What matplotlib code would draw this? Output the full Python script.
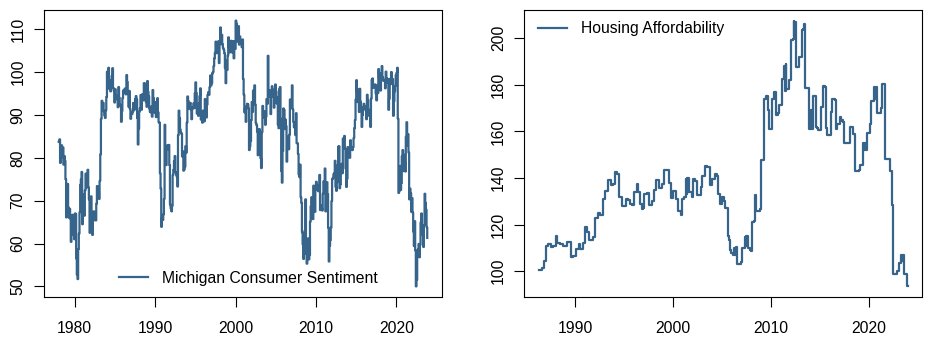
import matplotlib
matplotlib.use("Agg")
import matplotlib.pyplot as plt
import numpy as np

# ---------------- data ----------------
# University of Michigan consumer sentiment, monthly, Jan 1978 - Nov 2023
sentiment_start_year = 1978
sentiment = [
    83.7, 84.3, 78.8, 81.6, 82.9, 80.0, 82.4, 78.4, 80.4, 79.3, 75.0, 66.1,   # 1978
    72.1, 73.9, 68.4, 66.0, 68.1, 65.8, 60.4, 64.5, 66.7, 62.1, 63.3, 61.0,   # 1979
    67.0, 66.9, 56.5, 52.7, 51.7, 58.7, 62.3, 67.3, 73.7, 75.0, 76.7, 64.5,   # 1980
    71.4, 66.9, 66.5, 72.4, 76.3, 73.1, 74.1, 77.2, 73.1, 70.3, 62.5, 64.3,   # 1981
    71.0, 66.5, 62.0, 65.5, 67.5, 65.7, 65.4, 65.4, 69.3, 73.4, 72.1, 71.9,   # 1982
    70.4, 74.6, 80.8, 89.1, 93.3, 92.2, 92.8, 90.9, 89.9, 89.3, 91.1, 94.2,   # 1983
    100.1, 97.4, 101.0, 96.1, 98.1, 95.5, 96.6, 99.1, 100.9, 96.3, 95.7, 92.9,  # 1984
    96.0, 93.7, 93.7, 94.6, 91.8, 96.5, 94.0, 92.4, 92.1, 88.4, 90.9, 93.9,   # 1985
    95.6, 95.9, 95.1, 96.2, 94.8, 99.3, 97.7, 94.9, 91.9, 95.6, 91.4, 89.1,   # 1986
    90.4, 90.2, 90.8, 92.8, 91.1, 91.5, 93.7, 94.4, 93.6, 89.3, 83.1, 86.8,   # 1987
    90.8, 91.6, 94.6, 91.2, 94.8, 94.7, 93.4, 97.4, 97.3, 94.1, 93.0, 91.9,   # 1988
    97.9, 95.4, 94.3, 91.5, 90.7, 90.6, 92.0, 89.6, 95.8, 93.9, 90.9, 90.5,   # 1989
    93.0, 89.5, 91.3, 93.9, 90.6, 88.3, 88.2, 76.4, 72.8, 63.9, 66.0, 65.5,   # 1990
    66.8, 70.4, 87.7, 81.8, 78.3, 82.1, 82.9, 82.0, 83.0, 78.3, 69.1, 68.2,   # 1991
    67.5, 68.8, 76.0, 77.2, 79.2, 80.4, 76.6, 76.1, 75.6, 73.3, 85.3, 91.0,   # 1992
    89.3, 86.6, 85.9, 85.6, 80.3, 81.5, 77.0, 77.3, 77.9, 82.7, 81.2, 88.2,   # 1993
    94.3, 93.2, 91.5, 92.6, 92.8, 91.2, 89.0, 91.7, 91.5, 92.7, 91.6, 95.1,   # 1994
    97.6, 95.1, 90.3, 92.5, 89.8, 92.7, 94.4, 96.2, 88.9, 90.2, 88.2, 91.0,   # 1995
    89.3, 88.5, 93.7, 92.7, 89.4, 92.4, 94.7, 95.3, 94.7, 96.5, 99.2, 96.9,   # 1996
    97.4, 99.7, 100.0, 101.4, 103.2, 104.5, 107.1, 104.4, 106.0, 105.6, 107.2, 102.1,  # 1997
    106.6, 110.4, 106.5, 108.7, 106.5, 105.6, 105.2, 104.4, 100.9, 97.4, 102.7, 100.5,  # 1998
    103.9, 108.1, 105.7, 104.6, 106.8, 107.3, 106.0, 104.5, 107.2, 103.2, 107.2, 105.4,  # 1999
    112.0, 111.3, 107.1, 109.2, 110.7, 106.4, 108.3, 107.3, 106.8, 105.8, 107.6, 98.4,  # 2000
    94.7, 90.6, 91.5, 88.4, 92.0, 92.6, 92.4, 91.5, 81.8, 82.7, 83.9, 88.8,   # 2001
    93.0, 90.7, 95.7, 93.0, 96.9, 92.4, 88.1, 87.6, 86.1, 80.6, 84.2, 86.7,   # 2002
    82.4, 79.9, 77.6, 86.0, 92.1, 89.7, 90.9, 89.3, 87.7, 89.6, 93.7, 92.6,   # 2003
    103.8, 94.4, 95.8, 94.2, 90.2, 95.6, 96.7, 95.9, 94.2, 91.7, 92.8, 97.1,  # 2004
    95.5, 94.1, 92.6, 87.7, 86.9, 96.0, 96.5, 89.1, 76.9, 74.2, 81.6, 91.5,   # 2005
    91.2, 86.7, 88.9, 87.4, 79.1, 84.9, 84.7, 82.0, 85.4, 93.6, 92.1, 91.7,   # 2006
    96.9, 91.3, 88.4, 87.1, 88.3, 85.3, 90.4, 83.4, 83.4, 80.9, 76.1, 75.5,   # 2007
    78.4, 70.8, 69.5, 62.6, 59.8, 56.4, 61.2, 63.0, 70.3, 57.6, 55.3, 60.1,   # 2008
    61.2, 56.3, 57.3, 65.1, 68.7, 70.8, 66.0, 65.7, 73.5, 70.6, 67.4, 72.5,   # 2009
    74.4, 73.6, 73.6, 72.2, 73.6, 76.0, 67.8, 68.9, 68.2, 67.7, 71.6, 74.5,   # 2010
    74.2, 77.5, 67.5, 69.8, 74.3, 71.5, 63.7, 55.8, 59.5, 60.8, 63.7, 69.9,   # 2011
    75.0, 75.3, 76.2, 76.4, 79.3, 73.2, 72.3, 74.3, 78.3, 82.6, 82.7, 72.9,   # 2012
    73.8, 77.6, 78.6, 76.4, 84.5, 84.1, 85.1, 82.1, 77.5, 73.2, 75.1, 82.5,   # 2013
    81.2, 81.6, 80.0, 84.1, 81.9, 82.5, 81.8, 82.5, 84.6, 86.9, 88.8, 93.6,   # 2014
    98.1, 95.4, 93.0, 95.9, 90.7, 96.1, 93.1, 91.9, 87.2, 90.0, 91.3, 92.6,   # 2015
    92.0, 91.7, 91.0, 89.0, 94.7, 93.5, 90.0, 89.8, 91.2, 87.2, 93.8, 98.2,   # 2016
    98.5, 96.3, 96.9, 97.0, 97.1, 95.0, 93.4, 96.8, 95.1, 100.7, 98.5, 95.9,  # 2017
    95.7, 99.7, 101.4, 98.8, 98.0, 98.2, 97.9, 96.2, 100.1, 98.6, 97.5, 98.3,  # 2018
    91.2, 93.8, 98.4, 97.2, 100.0, 98.2, 98.4, 89.8, 93.2, 95.5, 96.8, 99.3,  # 2019
    99.8, 101.0, 89.1, 71.8, 72.3, 78.1, 72.5, 74.1, 80.4, 81.8, 76.9, 80.7,  # 2020
    79.0, 76.8, 84.9, 88.3, 82.9, 85.5, 81.2, 70.3, 72.8, 71.7, 67.4, 70.6,   # 2021
    67.2, 62.8, 59.4, 65.2, 58.4, 50.0, 51.5, 58.2, 58.6, 59.9, 56.8, 59.7,   # 2022
    64.9, 67.0, 62.0, 63.5, 59.2, 64.2, 71.6, 69.5, 67.9, 63.8, 61.3,         # 2023
]

# Housing affordability index: dates (decimal years) where the value changes
housing_dates = [
    1986.29, 1986.56, 1986.77, 1986.97, 1987.24, 1987.52, 1987.76, 1987.99,
    1988.13, 1988.44, 1988.71, 1989.12, 1989.56, 1989.80, 1990.07, 1990.34,
    1990.48, 1990.82, 1990.99, 1991.22, 1991.43, 1991.84, 1992.01, 1992.28,
    1992.52, 1992.79, 1993.03, 1993.30, 1993.61, 1993.81, 1994.05, 1994.25,
    1994.49, 1994.73, 1995.14, 1995.41, 1995.61, 1995.75, 1996.02, 1996.26,
    1996.39, 1996.60, 1996.77, 1996.94, 1997.04, 1997.28, 1997.52, 1997.86,
    1998.03, 1998.23, 1998.57, 1998.81, 1999.05, 1999.56, 1999.73, 2000.00,
    2000.27, 2000.51, 2000.78, 2000.95, 2001.12, 2001.29, 2001.39, 2001.46,
    2001.63, 2001.87, 2002.04, 2002.21, 2002.45, 2002.79, 2002.99, 2003.23,
    2003.50, 2003.74, 2004.01, 2004.25, 2004.52, 2004.59, 2004.76, 2005.03,
    2005.17, 2005.27, 2005.61, 2005.71, 2005.78, 2005.95, 2006.12, 2006.22,
    2006.36, 2006.46, 2006.53, 2006.97, 2007.07, 2007.31, 2007.41, 2007.48,
    2007.59, 2007.82, 2007.99, 2008.06, 2008.27, 2008.33, 2008.47, 2008.91,
    2009.01, 2009.29, 2009.46, 2009.63, 2009.76, 2010.07, 2010.31, 2010.54,
    2010.71, 2010.82, 2011.09, 2011.33, 2011.39, 2011.50, 2011.56, 2011.84,
    2012.01, 2012.24, 2012.31, 2012.38, 2012.45, 2012.52, 2012.86, 2013.10,
    2013.27, 2013.37, 2013.44, 2013.50, 2013.84, 2014.05, 2014.12, 2014.29,
    2014.56, 2014.63, 2014.80, 2015.14, 2015.31, 2015.48, 2015.57, 2015.71,
    2016.09, 2016.26, 2016.50, 2016.60, 2016.77, 2017.01, 2017.11, 2017.28,
    2017.35, 2017.45, 2018.03, 2018.37, 2018.54, 2018.95, 2019.12, 2019.39,
    2019.49, 2019.56, 2019.66, 2019.80, 2020.07, 2020.24, 2020.51, 2020.58,
    2020.68, 2020.78, 2021.19, 2021.33, 2021.60, 2022.14, 2022.38, 2022.48,
    2022.89, 2023.03, 2023.30, 2023.40, 2023.47, 2023.57, 2023.84, 2023.92,
]
housing_values = [
    100.7, 101.5, 104.5, 111.0, 111.5, 110.5, 111.0, 115.0,
    112.0, 111.5, 111.0, 112.5, 106.0, 106.5, 109.5, 111.5,
    109.5, 112.0, 119.0, 117.0, 113.5, 114.5, 123.0, 125.0,
    124.0, 131.0, 134.5, 139.0, 137.0, 137.5, 142.5, 141.5,
    132.0, 128.0, 131.0, 130.5, 129.0, 128.5, 134.0, 137.5,
    134.0, 129.0, 126.5, 127.0, 133.0, 133.5, 128.5, 130.0,
    135.0, 139.0, 135.5, 137.5, 143.5, 138.0, 131.5, 134.5,
    131.0, 126.0, 124.0, 131.0, 132.0, 139.5, 133.0, 140.0,
    134.0, 132.0, 139.5, 138.5, 132.5, 136.0, 141.0, 145.0,
    144.5, 137.0, 139.5, 141.5, 141.0, 133.0, 129.0, 132.0,
    130.0, 127.0, 115.0, 113.5, 109.0, 108.0, 107.0, 110.0,
    107.0, 110.5, 103.0, 104.0, 110.0, 114.5, 111.0, 115.0,
    110.0, 109.0, 108.5, 121.0, 121.5, 132.5, 126.0, 126.5,
    147.5, 174.0, 175.0, 169.0, 161.0, 174.0, 177.0, 167.0,
    168.0, 171.5, 182.5, 188.0, 177.5, 189.0, 178.0, 182.0,
    199.0, 199.5, 207.5, 201.0, 207.0, 187.5, 192.0, 203.5,
    204.0, 206.0, 205.0, 178.5, 161.0, 169.0, 161.0, 175.0,
    162.0, 161.5, 160.5, 170.5, 179.5, 179.0, 161.5, 158.5,
    168.5, 174.0, 173.5, 161.0, 163.0, 166.0, 164.5, 165.0,
    164.0, 155.0, 162.0, 159.0, 143.0, 143.5, 145.5, 155.0,
    152.0, 155.0, 152.0, 159.5, 163.0, 173.0, 179.0, 174.0,
    179.0, 168.0, 170.0, 180.5, 148.0, 143.0, 128.5, 99.0,
    100.0, 103.5, 107.0, 104.5, 107.0, 99.0, 93.5, 93.5,
]

left_xticks = [1980, 1990, 2000, 2010, 2020]
left_yticks = [50, 60, 70, 80, 90, 100, 110]
right_xticks = [1990, 2000, 2010, 2020]
right_yticks = [100, 120, 140, 160, 180, 200]

# ---------------- style ----------------
COLOR = "#36648B"
FONT = "Liberation Sans"
FS = 11.3
plt.rcParams["font.family"] = [FONT, "DejaVu Sans"]

W, H = 931, 338
fig = plt.figure(figsize=(W / 100, H / 100), dpi=100)

def px_axes(l, t, r, b):
    return fig.add_axes([l / W, 1 - b / H, (r - l) / W, (b - t) / H])

ax1 = px_axes(44, 10, 442, 297)
ax2 = px_axes(524.3, 10, 922, 297)

sent_x = sentiment_start_year + np.arange(len(sentiment)) / 12.0
ax1.plot(sent_x, sentiment, drawstyle="steps-post", color=COLOR, lw=1.6,
         label="Michigan Consumer Sentiment")
ax2.plot(housing_dates, housing_values, drawstyle="steps-post", color=COLOR, lw=1.6,
         label="Housing Affordability")

ax1.set_xlim(1976.17, 2025.67)
ax1.set_ylim(47.52, 114.48)
ax2.set_xlim(1984.8, 2025.4)
ax2.set_ylim(88.94, 212.06)

for ax, xt, yt in ((ax1, left_xticks, left_yticks), (ax2, right_xticks, right_yticks)):
    ax.set_xticks(xt)
    ax.set_yticks(yt)
    ax.tick_params(direction="out", length=7.2, width=0.8, labelsize=FS, colors="black")
    ax.tick_params(axis="x", pad=10)
    ax.tick_params(axis="y", pad=6)
    for lab in ax.get_yticklabels():
        lab.set_rotation(90)
        lab.set_va("center")
    for s in ax.spines.values():
        s.set_linewidth(0.8)
        s.set_color("black")

ax1.legend(loc="center left", bbox_to_anchor=((119 - 44) / 398, (297 - 278) / 287),
           frameon=False, fontsize=FS, handlelength=1.85, handletextpad=0.9,
           borderpad=0, borderaxespad=0)
ax2.legend(loc="center left", bbox_to_anchor=((538 - 524.3) / 397.7, (297 - 28.7) / 287),
           frameon=False, fontsize=FS, handlelength=1.85, handletextpad=0.9,
           borderpad=0, borderaxespad=0)

fig.savefig("out.png", dpi=100)
